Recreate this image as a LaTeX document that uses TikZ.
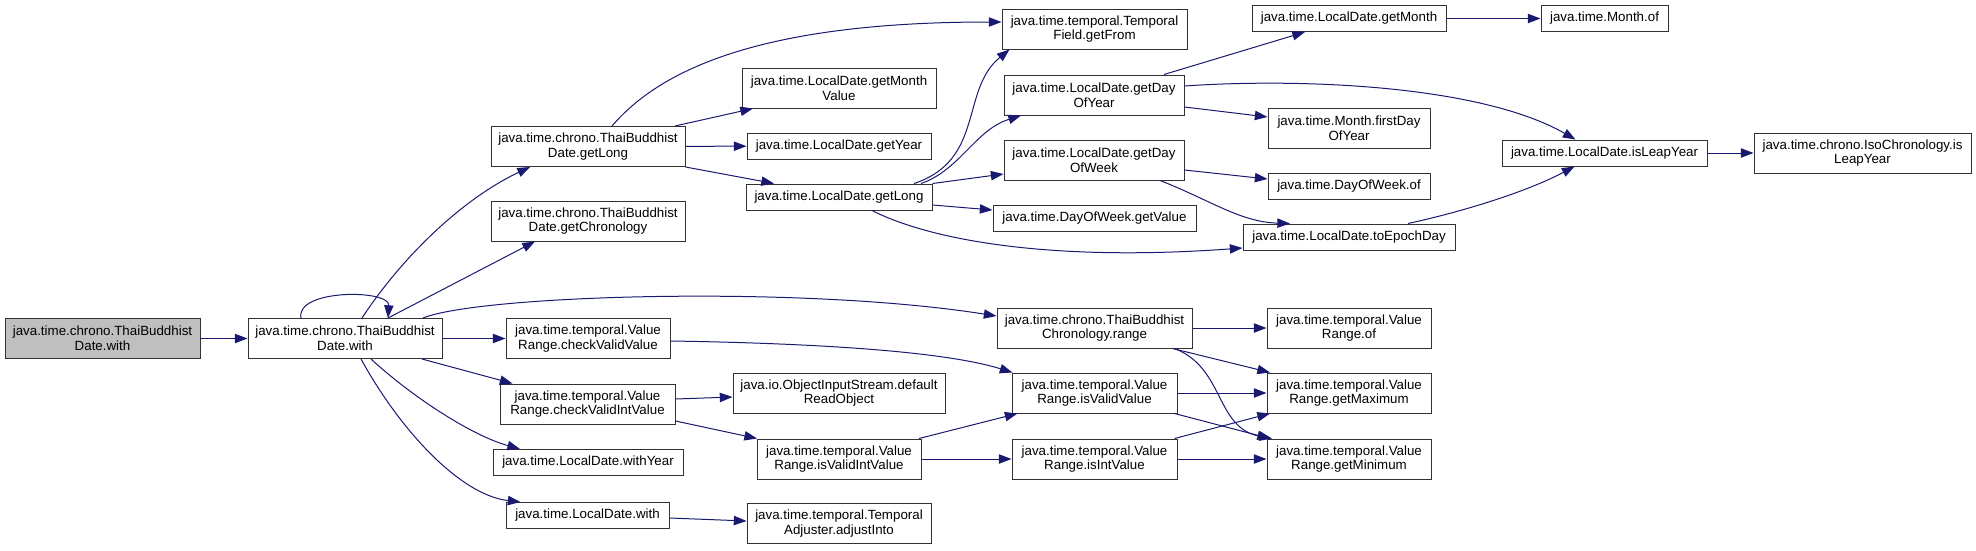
\documentclass[tikz,border=0pt]{standalone}
\usepackage{fontspec}
\setmainfont{Liberation Sans}
\usetikzlibrary{arrows.meta,calc}
\definecolor{edgeblue}{HTML}{191970}
\definecolor{boxgray}{HTML}{BFBFBF}
\begin{document}
\begin{tikzpicture}[x=0.75pt,y=-0.75pt,
    fnbox/.style={draw=black!80,line width=0.75pt,fill=white,align=center,inner sep=1pt,
        minimum height=19.5pt,font=\fontsize{10}{11}\selectfont},
    twoline/.style={minimum height=30pt},
    bw/.style={minimum width=#1*0.75pt},
    call/.style={draw=edgeblue,line width=0.75pt,-{Triangle[length=9.5pt,width=7pt]}}]
    \useasboundingbox (0,0) rectangle (1976,550);
    \node[fnbox,twoline,bw=195,fill=boxgray] (src) at (102.5,338.5) {java.time.chrono.ThaiBuddhist\\Date.with};
    \node[fnbox,twoline,bw=194] (with) at (345,338.5) {java.time.chrono.ThaiBuddhist\\Date.with};
    \node[fnbox,twoline,bw=194] (getlongT) at (588,146.5) {java.time.chrono.ThaiBuddhist\\Date.getLong};
    \node[fnbox,twoline,bw=194] (getchrono) at (588,221) {java.time.chrono.ThaiBuddhist\\Date.getChronology};
    \node[fnbox,twoline,bw=164] (checkvv) at (588,338.5) {java.time.temporal.Value\\Range.checkValidValue};
    \node[fnbox,twoline,bw=175] (checkviv) at (587.5,404) {java.time.temporal.Value\\Range.checkValidIntValue};
    \node[fnbox,bw=190] (withyear) at (588,462.5) {java.time.LocalDate.withYear};
    \node[fnbox,bw=163] (ldwith) at (587.5,515.5) {java.time.LocalDate.with};
    \node[fnbox,twoline,bw=194] (monthvalue) at (839,88) {java.time.LocalDate.getMonth\\Value};
    \node[fnbox,bw=184] (getyear) at (839,146) {java.time.LocalDate.getYear};
    \node[fnbox,bw=186] (getlongL) at (839,197) {java.time.LocalDate.getLong};
    \node[fnbox,twoline,bw=212] (readobj) at (839,393) {java.io.ObjectInputStream.default\\ReadObject};
    \node[fnbox,twoline,bw=164] (isvalidint) at (839,459) {java.time.temporal.Value\\Range.isValidIntValue};
    \node[fnbox,twoline,bw=184] (adjustinto) at (839,523.5) {java.time.temporal.Temporal\\Adjuster.adjustInto};
    \node[fnbox,twoline,bw=185] (getfrom) at (1094.5,29) {java.time.temporal.Temporal\\Field.getFrom};
    \node[fnbox,twoline,bw=180] (dayofyear) at (1094,95) {java.time.LocalDate.getDay\\OfYear};
    \node[fnbox,twoline,bw=180] (dayofweek) at (1094,160) {java.time.LocalDate.getDay\\OfWeek};
    \node[fnbox,bw=203] (dowvalue) at (1094.5,218.5) {java.time.DayOfWeek.getValue};
    \node[fnbox,twoline,bw=195] (range) at (1094.5,328) {java.time.chrono.ThaiBuddhist\\Chronology.range};
    \node[fnbox,twoline,bw=165] (isvalid) at (1094.5,393) {java.time.temporal.Value\\Range.isValidValue};
    \node[fnbox,twoline,bw=165] (isint) at (1094.5,459) {java.time.temporal.Value\\Range.isIntValue};
    \node[fnbox,bw=194] (getmonth) at (1349,18.5) {java.time.LocalDate.getMonth};
    \node[fnbox,twoline,bw=162] (firstday) at (1349,128) {java.time.Month.firstDay\\OfYear};
    \node[fnbox,bw=162] (dowof) at (1349,186) {java.time.DayOfWeek.of};
    \node[fnbox,bw=212] (toepoch) at (1349,237) {java.time.LocalDate.toEpochDay};
    \node[fnbox,twoline,bw=164] (vrof) at (1349,328) {java.time.temporal.Value\\Range.of};
    \node[fnbox,twoline,bw=164] (getmax) at (1349,393) {java.time.temporal.Value\\Range.getMaximum};
    \node[fnbox,twoline,bw=164] (getmin) at (1349,459) {java.time.temporal.Value\\Range.getMinimum};
    \node[fnbox,bw=127] (monthof) at (1604.5,18.5) {java.time.Month.of};
    \node[fnbox,bw=205] (isleap) at (1604.5,153) {java.time.LocalDate.isLeapYear};
    \node[fnbox,twoline,bw=217] (isoleap) at (1862.5,153) {java.time.chrono.IsoChronology.is\\LeapYear};
    \draw[call] (src) -- (with);
    \draw[call] ($(with.north)+(-44,0)$) .. controls (295,289) and (390,289) .. ($(with.north)+(43,0)$);
    \draw[call] ($(with.north)+(17,0)$) .. controls (400,260) and (460,200) .. ($(getlongT.south)+(-58,0)$);
    \draw[call] ($(with.north)+(43,0)$) -- ($(getchrono.south)+(-53,0)$);
    \draw[call] ($(with.north)+(78,0)$) .. controls (480,295) and (800,285) .. ($(range.west)+(0,-12)$);
    \draw[call] (with) -- (checkvv);
    \draw[call] ($(with.south)+(77,0)$) -- ($(checkviv.north)+(-75,0)$);
    \draw[call] ($(with.south)+(26,0)$) .. controls (410,395) and (470,435) .. ($(withyear.north)+(-68,0)$);
    \draw[call] ($(with.south)+(16,0)$) .. controls (400,430) and (460,495) .. ($(ldwith.north)+(-67,0)$);
    \draw[call] ($(getlongT.north)+(24,0)$) .. controls (660,70) and (760,22) .. ($(getfrom.west)+(0,-7)$);
    \draw[call] ($(getlongT.north)+(87,0)$) -- ($(monthvalue.south)+(-86,0)$);
    \draw[call] (getlongT) -- (getyear);
    \draw[call] (getlongT.south east) -- ($(getlongL.north)+(-65,0)$);
    \draw[call] ($(getlongL.north)+(75,0)$) .. controls (985,160) and (960,90) .. ($(getfrom.south)+(-85,0)$);
    \draw[call] ($(getlongL.north)+(82,0)$) .. controls (960,170) and (975,130) .. ($(dayofyear.south)+(-73,0)$);
    \draw[call] (getlongL.north east) -- ($(dayofweek.west)+(0,14)$);
    \draw[call] ($(getlongL.east)+(0,8)$) -- ($(dowvalue.west)+(0,-8.5)$);
    \draw[call] ($(getlongL.south)+(33,0)$) .. controls (930,240) and (1050,262) .. ($(toepoch.west)+(0,11)$);
    \draw[call] ($(dayofyear.north)+(70,0)$) -- ($(getmonth.south)+(-44,0)$);
    \draw[call] ($(dayofyear.east)+(0,-9)$) .. controls (1300,78) and (1480,85) .. ($(isleap.north)+(-29,0)$);
    \draw[call] ($(dayofyear.east)+(0,12)$) -- ($(firstday.west)+(0,-11)$);
    \draw[call] ($(dayofweek.east)+(0,10)$) -- ($(dowof.west)+(0,-7)$);
    \draw[call] ($(dayofweek.south)+(66,0)$) .. controls (1210,200) and (1240,222) .. ($(toepoch.north)+(-59,0)$);
    \draw[call] ($(toepoch.north)+(59,0)$) .. controls (1470,210) and (1530,190) .. ($(isleap.south)+(-30,0)$);
    \draw[call] (getmonth) -- (monthof);
    \draw[call] (isleap) -- (isoleap);
    \draw[call] (range) -- (vrof);
    \draw[call] ($(range.south)+(78,0)$) -- ($(getmax.north)+(-79,0)$);
    \draw[call] ($(range.south)+(80,0)$) .. controls (1225,368) and (1215,428) .. ($(getmin.north)+(-77,0)$);
    \draw[call] ($(checkvv.east)+(0,2.5)$) .. controls (800,343) and (940,350) .. ($(isvalid.north)+(-82,0)$);
    \draw[call] ($(checkviv.east)+(0,-5)$) -- ($(readobj.west)+(0,4)$);
    \draw[call] ($(checkviv.east)+(0,17)$) -- ($(isvalidint.north)+(-82,0)$);
    \draw[call] ($(isvalidint.north)+(80,0)$) -- ($(isvalid.south)+(-77,0)$);
    \draw[call] (isvalidint) -- (isint);
    \draw[call] (isvalid) -- (getmax);
    \draw[call] ($(isvalid.south)+(80,0)$) -- ($(getmin.north)+(-79,0)$);
    \draw[call] ($(isint.north)+(80,0)$) -- ($(getmax.south)+(-79,0)$);
    \draw[call] (isint) -- (getmin);
    \draw[call] ($(ldwith.east)+(0,2.5)$) -- ($(adjustinto.west)+(0,-2.5)$);
\end{tikzpicture}
\end{document}
